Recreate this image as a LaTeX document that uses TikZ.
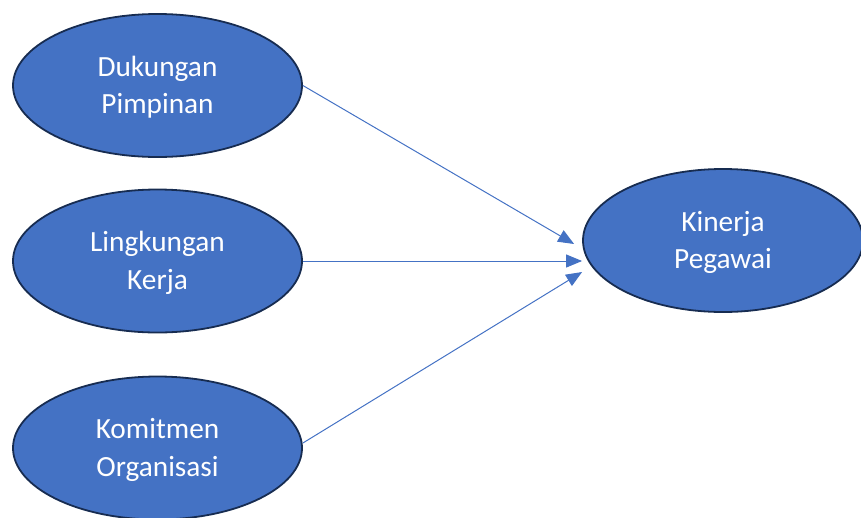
\documentclass[tikz,border=0pt]{standalone}
\usepackage{fontspec}
\setmainfont{Carlito}
\usetikzlibrary{shapes.geometric,arrows.meta,calc}
\definecolor{fillblue}{HTML}{4472C4}
\definecolor{edgeblue}{HTML}{172C51}
\tikzset{
  oval/.style={ellipse, draw=edgeblue, line width=1.8pt, fill=fillblue,
    minimum width=289pt, minimum height=143pt, inner sep=0pt,
    text=white, align=center, font=\fontsize{29.3}{37.5}\selectfont},
  link/.style={draw=fillblue, line width=1pt, -{Triangle[length=16pt,width=13pt]}}
}
\begin{document}
\begin{tikzpicture}[x=1pt,y=-1pt]
\useasboundingbox (0,0) rectangle (861,517);
\node[oval] (d) at (157.5,85.5) {\rule{0pt}{24pt}Dukungan\\Pimpinan};
\node[oval] (l) at (157.5,261) {\rule{0pt}{24pt}Lingkungan\\Kerja};
\node[oval] (o) at (157.5,448) {\rule{0pt}{24pt}Komitmen\\Organisasi};
\node[oval, minimum width=280pt] (k) at (723,240.5) {\rule{0pt}{24pt}Kinerja\\Pegawai};
\coordinate (t1) at ($(k.west)+(-8,3.5)$);
\coordinate (t3) at ($(k.west)+(0,31.5)$);
\draw[link] (d.east) -- (t1);
\draw[link] (l.east) -- (l.east -| k.west);
\draw[link] ($(o.east)+(0,-5)$) -- (t3);
\end{tikzpicture}
\end{document}
